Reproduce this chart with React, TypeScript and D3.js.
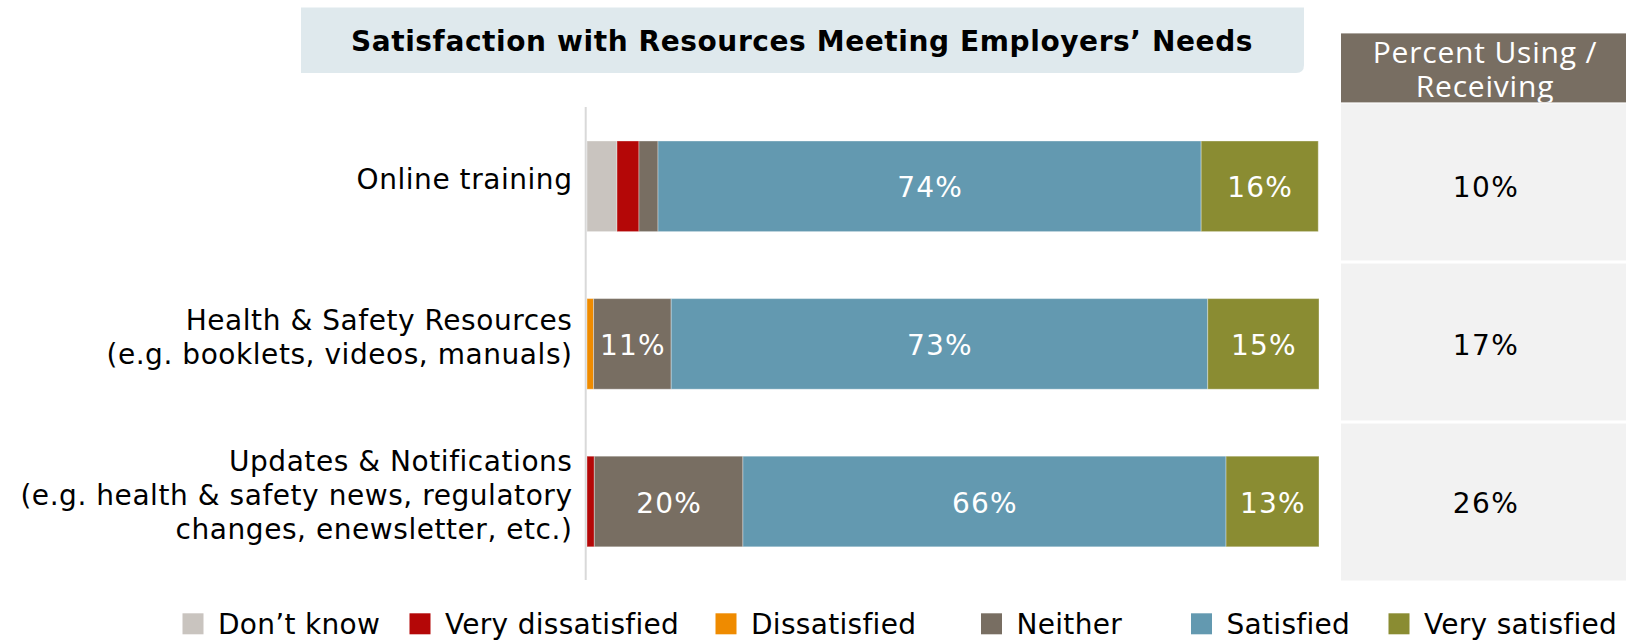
import React from "react";
import * as d3 from "d3";

// ---------- data ----------
const categories = ["Online training", "Health & Safety Resources", "Updates & Notifications"];
const categoryLabelLines = [
  ["Online training"],
  ["Health & Safety Resources", "(e.g. booklets, videos, manuals)"],
  ["Updates & Notifications", "(e.g. health & safety news, regulatory", "changes, enewsletter, etc.)"],
];
const seriesNames = ["Don’t know", "Very dissatisfied", "Dissatisfied", "Neither", "Satisfied", "Very satisfied"];
const dontKnow = [4.1, 0, 0];
const veryDissatisfied = [3.0, 0, 1.0];
const dissatisfied = [0, 0.9, 0];
const neither = [2.6, 10.6, 20.3];
const satisfied = [74.2, 73.3, 66.0];
const verySatisfied = [16.0, 15.2, 12.7];
const percentUsing = [10, 17, 26];
const titleText = "Satisfaction with Resources Meeting Employers’ Needs";
const sideHeaderLines = ["Percent Using /", "Receiving"];

// ---------- styling ----------
const colors = ["#c9c4bf", "#b40707", "#ef8b00", "#786e62", "#6399b0", "#8a8c32"];
const legendX = [182.5, 409.5, 715.5, 981, 1191, 1388.5];
const FONT = "'DejaVu Sans', Verdana, sans-serif";

export default function App() {
  const W = 1626, H = 640;
  const seriesValues = [dontKnow, veryDissatisfied, dissatisfied, neither, satisfied, verySatisfied];
  const rows = categories.map((c, i) => {
    const r: any = { category: c };
    seriesNames.forEach((s, k) => (r[s] = seriesValues[k][i]));
    return r;
  });
  const stacked = d3.stack<any>().keys(seriesNames)(rows);

  const x = d3.scaleLinear().domain([0, 100]).range([587, 1319]);
  const y = d3
    .scaleBand<string>()
    .domain(categories)
    .range([107.5, 580.3])
    .paddingInner(0.425)
    .paddingOuter(0.2125);
  const cellY = d3.scaleBand<string>().domain(categories).range([103.5, 580.5]).paddingInner(0.019).paddingOuter(0);

  return (
    <svg
      width={W}
      height={H}
      style={{ position: "absolute", left: 0, top: 0, background: "#fff" }}
      fontFamily={FONT}
    >
      <defs>
        <clipPath id="hdrClip">
          <rect x={1341} y={33.4} width={W - 1341} height={69} />
        </clipPath>
      </defs>
      {/* title box */}
      <path d={`M301,7.5 H1304 V65 Q1304,73 1296,73 H301 Z`} fill="#dfe9ed" />
      <text
        x={802}
        y={51}
        textAnchor="middle"
        fontWeight="bold"
        fontSize={28}
        letterSpacing={0.6}
        fill="#000"
      >
        {titleText}
      </text>

      {/* side header */}
      <rect x={1341} y={33.4} width={W - 1341} height={69} fill="#786e62" />
      <g clipPath="url(#hdrClip)">
        {sideHeaderLines.map((l, i) => (
          <text
            key={i}
            x={1485}
            y={62.7 + i * 34}
            textAnchor="middle"
            fontFamily="'Open Sans', sans-serif"
            fontSize={30}
            letterSpacing={0.8}
            fill="#fff"
          >
            {l}
          </text>
        ))}
      </g>
      {categories.map((c, i) => (
        <g key={c}>
          <rect x={1341} y={cellY(c)!} width={W - 1341} height={cellY.bandwidth()} fill="#f2f2f2" />
          <text
            x={1486}
            y={y(c)! + y.bandwidth() / 2 + 11}
            textAnchor="middle"
            fontSize={28}
            letterSpacing={1.5}
            fill="#000"
          >
            {percentUsing[i] + "%"}
          </text>
        </g>
      ))}

      {/* bars */}
      {stacked.map((s, k) => (
        <g key={s.key} fill={colors[k]}>
          {s.map((d, i) => {
            const w = x(d[1]) - x(d[0]);
            if (w <= 0) return null;
            return (
              <rect
                key={i}
                x={x(d[0])}
                y={y(categories[i])!}
                width={w}
                height={y.bandwidth()}
                stroke="rgba(255,255,255,0.35)"
                strokeWidth={1}
              />
            );
          })}
        </g>
      ))}
      {stacked.map((s, k) =>
        s.map((d, i) => {
          const v = d[1] - d[0];
          if (v < 5) return null;
          return (
            <text
              key={s.key + i}
              x={(x(d[0]) + x(d[1])) / 2 + 0.5}
              y={y(categories[i])! + y.bandwidth() / 2 + 11}
              textAnchor="middle"
              fontSize={28}
              letterSpacing={1.2}
              fill="#fff"
            >
              {Math.round(v) + "%"}
            </text>
          );
        })
      )}

      {/* axis line */}
      <line x1={585.7} x2={585.7} y1={107} y2={580} stroke="#d9d9d9" strokeWidth={2} />

      {/* category labels */}
      {categories.map((c, i) => {
        const lines = categoryLabelLines[i];
        const cy = y(c)! + y.bandwidth() / 2 + 3;
        return (
          <text key={c} textAnchor="end" fontSize={28} letterSpacing={0.55} fill="#000">
            {lines.map((l, j) => (
              <tspan key={j} x={572.5} y={cy + (j - (lines.length - 1) / 2) * 34}>
                {l}
              </tspan>
            ))}
          </text>
        );
      })}

      {/* legend */}
      {seriesNames.map((s, k) => (
        <g key={s}>
          <rect x={legendX[k]} y={613.3} width={21} height={21} fill={colors[k]} />
          <text x={legendX[k] + 35.5} y={634} fontSize={28} letterSpacing={0.3} fill="#000">
            {s}
          </text>
        </g>
      ))}
    </svg>
  );
}
